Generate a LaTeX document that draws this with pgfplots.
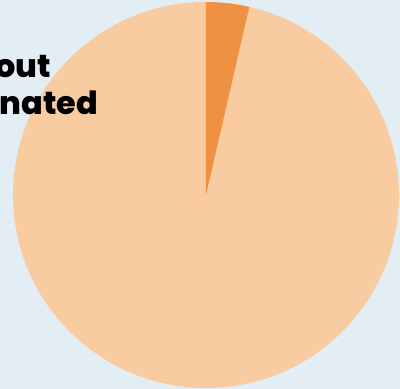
\documentclass[border=0pt]{standalone}
\usepackage{pgfplots}
\usepackage{pgfplotstable}
\pgfplotsset{compat=1.18}
\usepackage{fontspec}
\setmainfont{Poppins}
\newfontfamily\heavy{Poppins ExtraBold}
\definecolor{bg}{HTML}{E3EDF4}
\definecolor{big}{HTML}{F8CCA0}
\definecolor{small}{HTML}{EF9143}
\pgfplotstableread{
label value
small 3.6
big 96.4
}\piedata
\begin{document}
\begin{tikzpicture}
\clip (0,0) rectangle (400bp,389bp);
\fill[bg] (0,0) rectangle (400bp,389bp);
\begin{axis}[
  scale only axis, width=400bp, height=389bp,
  xmin=0, xmax=400, ymin=0, ymax=389,
  hide axis, clip=false]
\pgfplotstablegetelem{0}{value}\of\piedata
\pgfmathsetmacro{\vsmall}{\pgfplotsretval}
\pgfplotstablegetelem{1}{value}\of\piedata
\pgfmathsetmacro{\vbig}{\pgfplotsretval}
\pgfmathsetmacro{\aend}{90-3.6*\vsmall}
\fill[big] (axis cs:206,194) circle[radius=193bp];
\fill[small] (axis cs:206,194) -- ++(90:193bp) arc[start angle=90, end angle=\aend, radius=193bp] -- cycle;
\node[anchor=base east, inner sep=0pt, font=\fontsize{32}{38}\heavy, text=black] at (axis cs:51,311) {out};
\node[anchor=base east, inner sep=0pt, font=\fontsize{32}{38}\heavy, text=black] at (axis cs:98,274) {nated};
\end{axis}
\end{tikzpicture}
\end{document}
